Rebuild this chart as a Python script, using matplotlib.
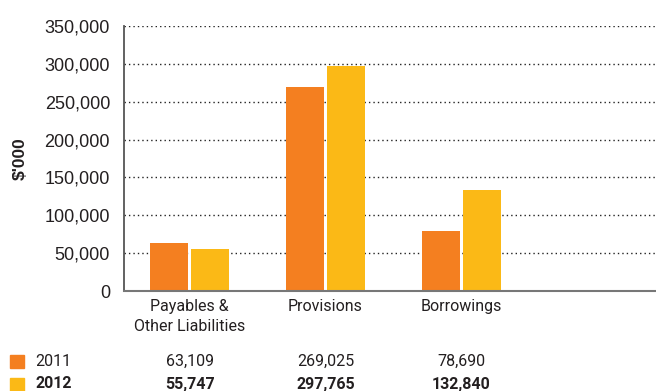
import matplotlib
matplotlib.use("Agg")
import matplotlib.pyplot as plt
from matplotlib.patches import Rectangle
from matplotlib.transforms import blended_transform_factory
import numpy as np

categories = ["Payables &\nOther Liabilities", "Provisions", "Borrowings"]
years = ["2011", "2012"]
values_2011 = [63109, 269025, 78690]
values_2012 = [55747, 297765, 132840]
y_ticks = [0, 50000, 100000, 150000, 200000, 250000, 300000, 350000]

c2011 = "#F47F20"
c2012 = "#FBB916"
text_col = "#231F20"
cat_font = "Roboto"

W, H = 656, 391
fig = plt.figure(figsize=(W / 100, H / 100), dpi=100)
ax = fig.add_axes([124 / W, 1 - 291 / H, 1 - 124 / W, (291 - 26) / H])

x = np.arange(len(categories))
bw = 0.28
off = 0.151
ax.bar(x - off, values_2011, width=bw, color=c2011, zorder=3)
ax.bar(x + off, values_2012, width=bw, color=c2012, zorder=3)

ax.set_xlim(-0.482, 3.43)
ax.set_ylim(0, 350000)
ax.set_yticks(y_ticks)
ax.set_yticklabels([f"{v:,}" for v in y_ticks], fontsize=13,
                   family="Liberation Sans", color=text_col)
ax.yaxis.grid(True, linestyle=(0, (1, 2.2)), color="#222222", linewidth=1.0, zorder=0)
ax.tick_params(axis="y", length=0, pad=10)
ax.set_xticks(x)
ax.set_xticklabels(categories, fontsize=11.5, family=cat_font, color=text_col,
                   linespacing=1.35)
ax.tick_params(axis="x", length=0, pad=6)

for s in ["top", "right"]:
    ax.spines[s].set_visible(False)
ax.spines["left"].set_color("#555555")
ax.spines["left"].set_linewidth(1.3)
ax.spines["bottom"].set_color("#777777")
ax.spines["bottom"].set_linewidth(1.5)
ax.spines["bottom"].set_zorder(4)

ax.set_ylabel("$'000", fontsize=12.5, fontweight="bold", family="Liberation Sans",
              color=text_col)
ax.yaxis.set_label_coords(-0.18, 0.5)

# data table under the chart
tr = blended_transform_factory(ax.transData, fig.transFigure)
rows = [(years[0], values_2011, c2011, "normal", 361.5),
        (years[1], values_2012, c2012, "bold", 384)]
for label, vals, col, weight, ypix in rows:
    yfig = 1 - ypix / H
    fig.patches.append(Rectangle((10 / W, 1 - (ypix + 6.5) / H), 14 / W, 13 / H,
                                 transform=fig.transFigure, color=col))
    fig.text(35 / W, yfig, label, fontsize=11.5, family=cat_font, fontweight=weight,
             color=text_col, va="center", ha="left")
    for xi, v in zip(x, vals):
        fig.text(xi, yfig, f"{v:,}", transform=tr, fontsize=11.5, family=cat_font,
                 fontweight=weight, color=text_col, va="center", ha="center")

fig.savefig("out.png", dpi=100)
